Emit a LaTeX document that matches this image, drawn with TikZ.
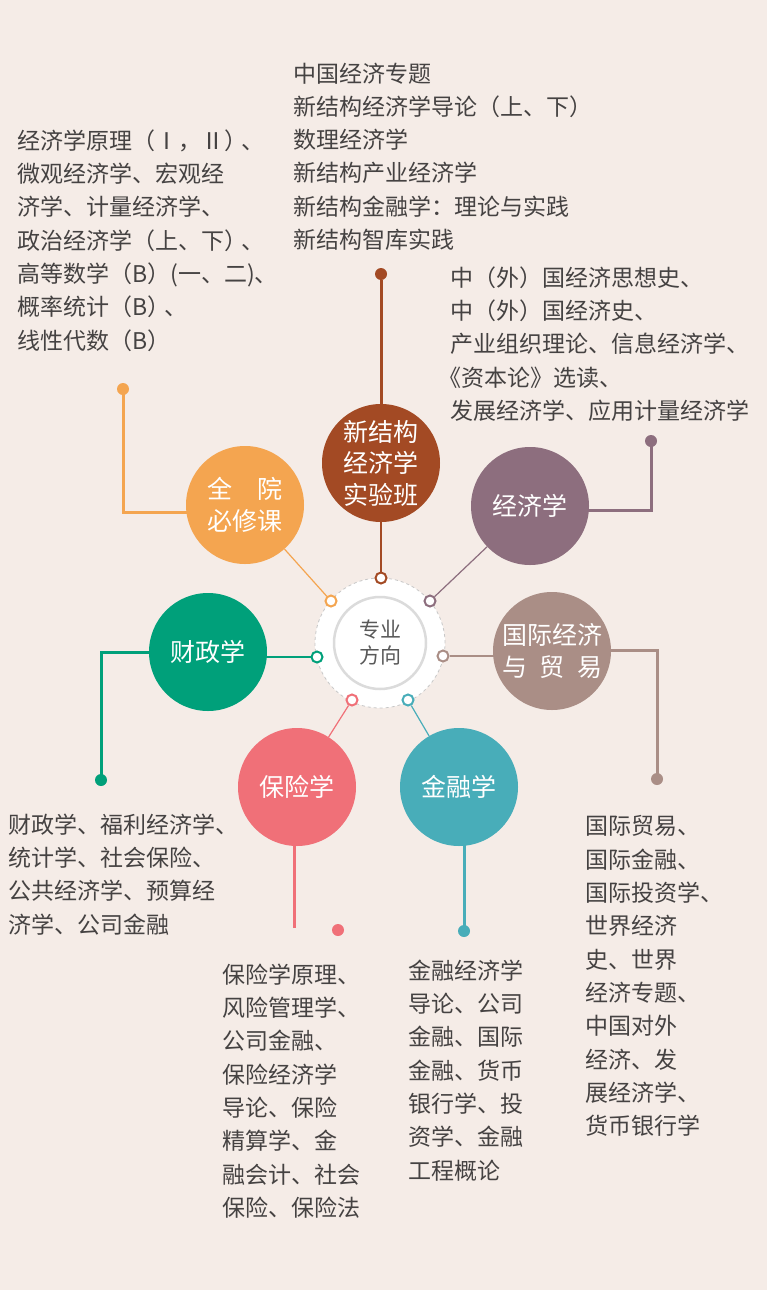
\documentclass[tikz,border=0pt]{standalone}
\usepackage{fontspec}
\setmainfont{Noto Sans CJK SC}
\pgfdeclarelayer{bglayer}
\pgfdeclarelayer{linelayer}
\pgfsetlayers{bglayer,linelayer,main}
\definecolor{bgc}{HTML}{F5ECE7}
\definecolor{txt}{HTML}{454242}
\definecolor{cbrown}{HTML}{A34A24}
\definecolor{cpurple}{HTML}{8D6E7E}
\definecolor{corange}{HTML}{F4A550}
\definecolor{cgreen}{HTML}{00A07A}
\definecolor{ctaupe}{HTML}{AA8E86}
\definecolor{cpink}{HTML}{F07078}
\definecolor{cteal}{HTML}{48ADB9}
\tikzset{
  major/.style={circle, minimum size=118pt, inner sep=0pt, text=white, align=center,
    font=\fontsize{25pt}{31.5pt}\selectfont},
  ringmark/.style={circle, minimum size=11pt, inner sep=0pt, fill=white, line width=2pt},
  enddot/.style={circle, minimum size=12pt, inner sep=0pt},
  thinc/.style={line width=1.2pt},
  thickc/.style={line width=3pt},
  listtxt/.style={anchor=north west, inner sep=0pt, align=left, text=txt,
    font=\fontsize{23pt}{33.3pt}\selectfont}
}
\begin{document}
\begin{tikzpicture}[x=1pt,y=-1pt]
\begin{pgfonlayer}{bglayer}
\fill[bgc] (0,0) rectangle (767,1290);
\end{pgfonlayer}
\useasboundingbox (0,0) rectangle (767,1290);

% hub
\node[circle, minimum size=130pt, inner sep=0pt, fill=white, draw=black!22, dashed, line width=0.8pt] (hubOuter) at (380,643) {};
\node[circle, minimum size=92pt, inner sep=0pt, fill=white, draw=black!14, line width=2.5pt,
  text=black!65, align=center, font=\fontsize{21pt}{26pt}\selectfont] (hub) at (380,643) {专业\\方向};

% major circles
\node[major, fill=cbrown] (cBrown) at (381,463) {新结构\\经济学\\实验班};
\node[major, fill=corange] (cOrange) at (245,505) {全\hspace{1em}院\\必修课};
\node[major, fill=cpurple] (cPurple) at (530,506) {经济学};
\node[major, fill=cgreen] (cGreen) at (208,652) {财政学};
\node[major, fill=ctaupe] (cTaupe) at (552,651) {国际经济\\\makebox[4em][s]{与\hfill 贸\hfill 易}};
\node[major, fill=cpink] (cPink) at (297,787) {保险学};
\node[major, fill=cteal] (cTeal) at (459,787) {金融学};

% ring markers on hub
\node[ringmark, draw=cbrown] (rB) at (381,578) {};
\node[ringmark, draw=corange] (rO) at (331,601) {};
\node[ringmark, draw=cpurple] (rP) at (430,601) {};
\node[ringmark, draw=cgreen] (rG) at (317,657) {};
\node[ringmark, draw=ctaupe] (rT) at (443,656) {};
\node[ringmark, draw=cpink] (rPi) at (352,700) {};
\node[ringmark, draw=cteal] (rTe) at (408,700) {};

% end dots
\node[enddot, fill=cbrown] (dB) at (381,274) {};
\node[enddot, fill=corange] (dO) at (123,389) {};
\node[enddot, fill=cpurple] (dP) at (651,441) {};
\node[enddot, fill=cgreen] (dG) at (101,780) {};
\node[enddot, fill=ctaupe] (dT) at (657,779) {};
\node[enddot, fill=cpink] (dPi) at (338,930) {};
\node[enddot, fill=cteal] (dTe) at (464,931) {};

\coordinate (jO) at (123,512);
\coordinate (jP) at (651,510);
\coordinate (jG) at (101,652);
\coordinate (jT) at (657,650);
\coordinate (ePi) at (294,928);

\begin{pgfonlayer}{linelayer}
% thin connectors
\draw[thinc, cbrown] (rB) -- (cBrown);
\draw[thinc, corange] (rO) -- (cOrange);
\draw[thinc, cpurple] (rP) -- (cPurple);
\draw[thinc, cgreen] (rG) -- (rG -| cGreen);
\draw[thinc, ctaupe] (rT) -- (rT -| cTaupe);
\draw[thinc, cpink] (rPi) -- (cPink);
\draw[thinc, cteal] (rTe) -- (cTeal);
% thick connectors
\draw[thickc, cbrown] (dB) -- (cBrown.center);
\draw[thickc, corange] (dO.center) -- (jO) -- (jO -| cOrange);
\draw[thickc, cpurple] (dP.center) -- (jP) -- (jP -| cPurple);
\draw[thickc, cgreen] (dG.center) -- (jG) -- (jG -| cGreen);
\draw[thickc, ctaupe] (dT.center) -- (jT) -- (jT -| cTaupe);
\draw[thickc, cpink] (ePi) -- (ePi |- cPink);
\draw[thickc, cteal] (dTe.center) -- (dTe |- cTeal);
\end{pgfonlayer}

% course lists
\node[listtxt] (tCommon) at (17,129.5) {经济学原理（Ⅰ，Ⅱ）\hspace{-6pt}、\\微观经济学、宏观经\\济学、计量经济学、\\政治经济学（上、下）\hspace{-6pt}、\\高等数学（B）(一、二)、\\概率统计（B）\hspace{-6pt}、\\线性代数（B）};
\node[listtxt] (tNew) at (293,62.5) {中国经济专题\\新结构经济学导论（上、下）\\数理经济学\\新结构产业经济学\\新结构金融学：理论与实践\\新结构智库实践};
\node[listtxt] (tEcon) at (450,266.5) {中（外）国经济思想史、\\中（外）国经济史、\\产业组织理论、信息经济学、\\\hspace*{-12pt}《资本论》选读、\\发展经济学、应用计量经济学};
\node[listtxt] (tFisc) at (8,813.5) {财政学、福利经济学、\\统计学、社会保险、\\公共经济学、预算经\\济学、公司金融};
\node[listtxt] (tIns) at (222,963.5) {保险学原理、\\风险管理学、\\公司金融、\\保险经济学\\导论、保险\\精算学、金\\融会计、社会\\保险、保险法};
\node[listtxt] (tFin) at (408,959.5) {金融经济学\\导论、公司\\金融、国际\\金融、货币\\银行学、投\\资学、金融\\工程概论};
\node[listtxt] (tIntl) at (585,815.5) {国际贸易、\\国际金融、\\国际投资学、\\世界经济\\史、世界\\经济专题、\\中国对外\\经济、发\\展经济学、\\货币银行学};
\end{tikzpicture}
\end{document}
